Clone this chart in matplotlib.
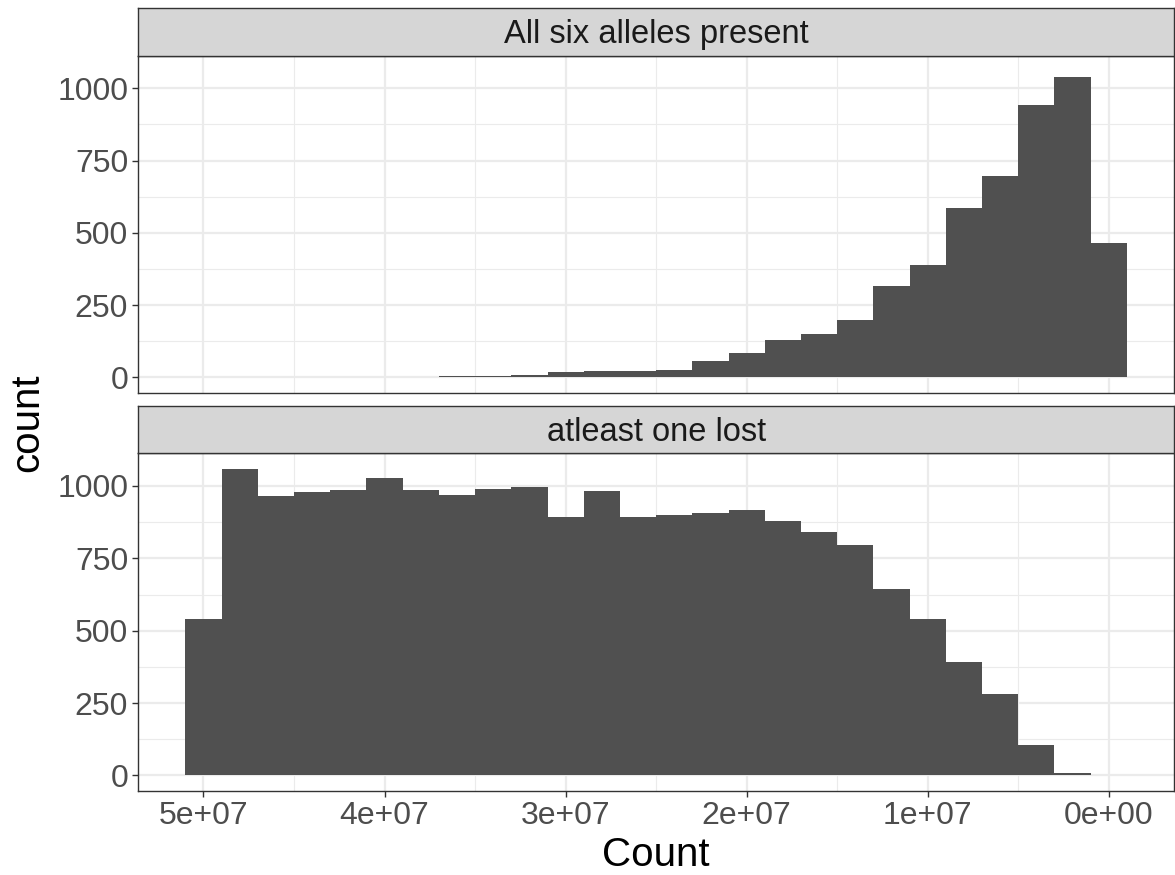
import matplotlib
matplotlib.use("Agg")
import matplotlib.pyplot as plt
import numpy as np

plt.rcParams['font.family'] = ['Liberation Sans', 'DejaVu Sans']

# ---- data ----
panel_titles = ["All six alleles present", "atleast one lost"]
bin_width = 2e6
bin_centers = [2e6 * k for k in range(26)]  # 0 .. 5e7
counts_present = [465, 1038, 943, 698, 587, 388, 316, 198, 149, 129, 85, 55, 27,
                  23, 22, 17, 9, 5, 5, 2, 0, 2, 2, 0, 2, 2]
counts_lost = [0, 9, 105, 282, 393, 539, 645, 796, 842, 880, 916, 906, 900,
               893, 983, 894, 997, 988, 968, 985, 1029, 985, 978, 965, 1060, 539]
x_ticks = [0, 1e7, 2e7, 3e7, 4e7, 5e7]
x_ticklabels = ["0e+00", "1e+07", "2e+07", "3e+07", "4e+07", "5e+07"]
y_ticks = [0, 250, 500, 750, 1000]
x_title = "Count"
y_title = "count"

W, H = 1175, 875
fig = plt.figure(figsize=(W / 100, H / 100), dpi=100)

def fx(px):
    return px / W

def fy(py):
    return 1 - py / H

left, right = 138.3, 1174
panels = [  # (strip_top, strip_bottom, panel_bottom)
    (8, 55.7, 392.7),
    (406, 453.3, 790.7),
]

edges_lo = min(bin_centers) - bin_width / 2
edges_hi = max(bin_centers) + bin_width / 2
xpad = 0.05 * (edges_hi - edges_lo)
ymax = max(max(counts_present), max(counts_lost))
ypad = 0.05 * ymax

tick_col = "#4D4D4D"
grid_col = "#EBEBEB"
frame_col = "#333333"

all_counts = [counts_present, counts_lost]
for i, (st, sb, pb) in enumerate(panels):
    ax = fig.add_axes([fx(left), fy(pb), fx(right - left), (pb - sb) / H])
    ax.bar(bin_centers, all_counts[i], width=bin_width, color="#505050",
           linewidth=0, zorder=3)
    ax.set_xlim(edges_hi + xpad, edges_lo - xpad)
    ax.set_ylim(-ypad, ymax + ypad)
    ax.set_xticks(x_ticks)
    ax.set_xticks([5e6, 1.5e7, 2.5e7, 3.5e7, 4.5e7], minor=True)
    ax.set_yticks(y_ticks)
    ax.set_yticks([125, 375, 625, 875], minor=True)
    ax.grid(True, which="major", color=grid_col, linewidth=1.6, zorder=0)
    ax.grid(True, which="minor", color=grid_col, linewidth=0.8, zorder=0)
    ax.set_axisbelow(True)
    ax.tick_params(which="minor", length=0)
    ax.tick_params(which="major", length=4.3, width=1.0, color=frame_col,
                   labelsize=23, labelcolor=tick_col, pad=3)
    for s in ax.spines.values():
        s.set_color(frame_col)
        s.set_linewidth(1.0)
    if i == 0:
        ax.tick_params(axis="x", which="both", labelbottom=False, length=0)
    else:
        ax.set_xticklabels(x_ticklabels)
    # strip
    sax = fig.add_axes([fx(left), fy(sb), fx(right - left), (sb - st) / H])
    sax.set_facecolor("#D6D6D6")
    sax.set_xticks([])
    sax.set_yticks([])
    for s in sax.spines.values():
        s.set_color(frame_col)
        s.set_linewidth(1.0)
    sax.text(0.5, 0.27, panel_titles[i], ha="center", va="baseline",
             fontsize=23.5, color="#1A1A1A", transform=sax.transAxes)

fig.text(fx((left + right) / 2), fy(866), x_title, ha="center", va="baseline",
         fontsize=29, color="black")
fig.text(fx(27), fy(423), y_title, ha="center", va="center", rotation=90,
         fontsize=29, color="black")

fig.savefig("out.png", dpi=100)
